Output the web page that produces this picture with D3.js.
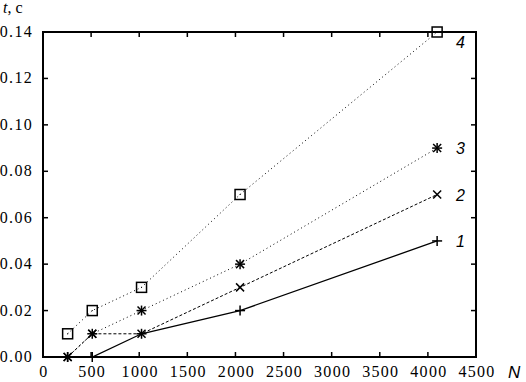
<!DOCTYPE html>
<html>
<head>
<meta charset="utf-8">
<script src="https://cdn.jsdelivr.net/npm/d3@7"></script>
<style>
  body { margin: 0; background: #fff; }
  #container { width: 526px; height: 382px; }
  text { fill: #000; }
</style>
</head>
<body>
<div id="container"></div>
<script>
const nValues = [256, 512, 1024, 2048, 4096];
const series1 = [0.00, 0.00, 0.01, 0.02, 0.05];
const series2 = [0.00, 0.01, 0.01, 0.03, 0.07];
const series3 = [0.00, 0.01, 0.02, 0.04, 0.09];
const series4 = [0.01, 0.02, 0.03, 0.07, 0.14];
const seriesNames = ["1", "2", "3", "4"];
const xTicks = [0, 500, 1000, 1500, 2000, 2500, 3000, 3500, 4000, 4500];
const yTicks = [0, 0.02, 0.04, 0.06, 0.08, 0.10, 0.12, 0.14];

const width = 526, height = 382;
const margin = { left: 43, right: 50, top: 32, bottom: 25 };

const svg = d3.select("#container")
    .append("svg")
    .attr("width", width)
    .attr("height", height);

const x = d3.scaleLinear().domain([0, 4500]).range([margin.left, width - margin.right]);
const y = d3.scaleLinear().domain([0, 0.14]).range([height - margin.bottom, margin.top]);

// frame
svg.append("rect")
    .attr("x", x(0)).attr("y", y(0.14))
    .attr("width", x(4500) - x(0)).attr("height", y(0) - y(0.14))
    .attr("fill", "none").attr("stroke", "#000").attr("stroke-width", 2);

// ticks (inward on all four sides)
const tickLen = 5;
const g = svg.append("g").attr("stroke", "#000").attr("stroke-width", 1.5);
xTicks.slice(1, -1).forEach(t => {
    g.append("line").attr("x1", x(t)).attr("x2", x(t)).attr("y1", y(0)).attr("y2", y(0) - tickLen);
    g.append("line").attr("x1", x(t)).attr("x2", x(t)).attr("y1", y(0.14)).attr("y2", y(0.14) + tickLen);
});
yTicks.slice(1, -1).forEach(t => {
    g.append("line").attr("x1", x(0)).attr("x2", x(0) + tickLen).attr("y1", y(t)).attr("y2", y(t));
    g.append("line").attr("x1", x(4500)).attr("x2", x(4500) - tickLen).attr("y1", y(t)).attr("y2", y(t));
});

const labelFont = "'Liberation Serif', 'Times New Roman', serif";

svg.append("g").selectAll("text")
    .data(xTicks)
    .join("text")
    .attr("x", d => x(d) + 1)
    .attr("y", 377)
    .attr("text-anchor", "middle")
    .style("font-family", labelFont)
    .style("font-size", "16px")
    .style("letter-spacing", "1.3px")
    .text(d => d);

svg.append("g").selectAll("text")
    .data(yTicks)
    .join("text")
    .attr("x", 33)
    .attr("y", d => y(d) + 5)
    .attr("text-anchor", "end")
    .style("font-family", labelFont)
    .style("font-size", "16px")
    .style("letter-spacing", "1.3px")
    .text(d => d.toFixed(2));

// axis titles
const tTitle = svg.append("text")
    .attr("x", 3).attr("y", 13)
    .style("font-family", labelFont)
    .style("font-size", "16px");
tTitle.append("tspan").style("font-style", "italic").text("t");
tTitle.append("tspan").text(", c");

svg.append("text")
    .attr("x", 508).attr("y", 378)
    .style("font-family", "'Liberation Sans', Arial, sans-serif")
    .style("font-style", "italic")
    .style("font-size", "17px")
    .text("N");

// series
const allSeries = [series1, series2, series3, series4];
const dashes = [null, "3,2", "1,3", "1,3"];

const line = d3.line()
    .x((d, i) => x(nValues[i]))
    .y(d => y(d));

allSeries.forEach((s, k) => {
    svg.append("path")
        .datum(s)
        .attr("d", line)
        .attr("fill", "none")
        .attr("stroke", "#000")
        .attr("stroke-width", k === 0 ? 1.3 : 1)
        .attr("stroke-dasharray", dashes[k]);
});

const markers = svg.append("g").attr("stroke", "#000").attr("stroke-width", 1.5).attr("fill", "none");
const r = 5;

function plus(px, py) {
    markers.append("line").attr("x1", px - r).attr("x2", px + r).attr("y1", py).attr("y2", py);
    markers.append("line").attr("x1", px).attr("x2", px).attr("y1", py - r).attr("y2", py + r);
}
function cross(px, py) {
    const c = r * 0.8;
    markers.append("line").attr("x1", px - c).attr("x2", px + c).attr("y1", py - c).attr("y2", py + c);
    markers.append("line").attr("x1", px - c).attr("x2", px + c).attr("y1", py + c).attr("y2", py - c);
}
function square(px, py) {
    markers.append("rect").attr("x", px - 5).attr("y", py - 5).attr("width", 10).attr("height", 10);
    markers.append("rect").attr("x", px - 0.5).attr("y", py - 0.5).attr("width", 1).attr("height", 1)
        .attr("fill", "#000").attr("stroke", "none");
}

series1.forEach((v, i) => plus(x(nValues[i]), y(v)));
series2.forEach((v, i) => cross(x(nValues[i]), y(v)));
series3.forEach((v, i) => { plus(x(nValues[i]), y(v)); cross(x(nValues[i]), y(v)); });
series4.forEach((v, i) => square(x(nValues[i]), y(v)));

// series labels
svg.append("g").selectAll("text")
    .data(allSeries)
    .join("text")
    .attr("x", 456)
    .attr("y", (d, i) => y(d[d.length - 1]) + (i === 3 ? 16 : 6))
    .style("font-family", "'Liberation Sans', Arial, sans-serif")
    .style("font-style", "italic")
    .style("font-size", "16px")
    .text((d, i) => seriesNames[i]);
</script>
</body>
</html>
